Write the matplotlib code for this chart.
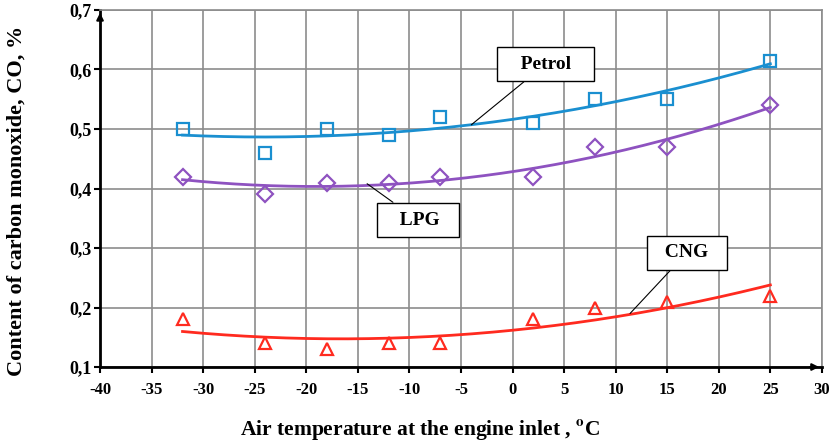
import numpy as np
import matplotlib.pyplot as plt

# ---------- data ----------
temps = [-32, -24, -18, -12, -7, 2, 8, 15, 25]
petrol = [0.50, 0.46, 0.50, 0.49, 0.52, 0.51, 0.55, 0.55, 0.615]
lpg = [0.42, 0.39, 0.41, 0.41, 0.42, 0.42, 0.47, 0.47, 0.54]
cng = [0.18, 0.14, 0.13, 0.14, 0.14, 0.18, 0.20, 0.21, 0.22]

x_ticks = list(range(-40, 31, 5))
y_ticks = [0.1, 0.2, 0.3, 0.4, 0.5, 0.6, 0.7]

plt.rcParams["font.family"] = ["Liberation Serif", "DejaVu Serif"]
plt.rcParams["font.weight"] = "bold"
plt.rcParams["mathtext.fontset"] = "stix"

BLUE = "#1a8fd0"
PURPLE = "#8e52c0"
RED = "#ff2a1f"

fig = plt.figure(figsize=(8.35, 4.44), dpi=100)
ax = fig.add_axes([0.1198, 0.1734, 0.8645, 0.8041])

series = [
    (petrol, "s", 9, BLUE),
    (lpg, "D", 8, PURPLE),
    (cng, "^", 9, RED),
]
xs = np.linspace(min(temps), max(temps), 200)
for vals, marker, ms, color in series:
    ax.plot(temps, vals, linestyle="none", marker=marker, ms=ms, mfc="none",
            mec=color, mew=1.6, zorder=4)
    # 2nd-order trend line, as in the spreadsheet chart
    coef = np.polyfit(temps, vals, 2)
    ax.plot(xs, np.polyval(coef, xs), color=color, lw=2, zorder=3)

ax.set_xlim(-40, 30)
ax.set_ylim(0.1, 0.7)
ax.set_xticks(x_ticks)
ax.set_yticks(y_ticks)
ax.set_xticklabels([str(v) for v in x_ticks], fontsize=12, fontweight="bold")
ax.set_yticklabels([f"{v:.1f}".replace(".", ",") for v in y_ticks],
                   fontsize=13, fontweight="bold")
ax.grid(color="#8c8c8c", lw=1.2)
ax.set_axisbelow(True)
ax.tick_params(axis="x", length=4, width=1.5, direction="out", pad=7)
ax.tick_params(axis="y", length=4, width=1.5, direction="out", pad=2)

for side in ("top", "right"):
    ax.spines[side].set_color("#8c8c8c")
    ax.spines[side].set_linewidth(1.2)
for side in ("left", "bottom"):
    ax.spines[side].set_linewidth(2)
    ax.spines[side].set_color("black")

# arrow heads on the axes
ax.annotate("", xy=(1.0, 0), xycoords="axes fraction", xytext=(0.98, 0),
            arrowprops=dict(arrowstyle="-|>", color="black", lw=1.5))
ax.annotate("", xy=(0, 1.0), xycoords="axes fraction", xytext=(0, 0.97),
            arrowprops=dict(arrowstyle="-|>", color="black", lw=1.5))

fig.text(0.503, 0.032,
         r"Air temperature at the engine inlet , $\mathbf{^{o}}$C",
         fontsize=15.5, fontweight="bold", ha="center", va="center")
fig.text(0.0204, 0.5473, "Content of carbon monoxide, CO, %", fontsize=16,
         fontweight="bold", ha="center", va="center", rotation=90)

# callout labels
box = dict(boxstyle="square,pad=0.45", fc="white", ec="black", lw=1)
labels = [
    ("   Petrol   ", (-4.0, 0.507), (3.2, 0.609)),
    ("   LPG  ", (-14.1, 0.408), (-9.2, 0.347)),
    ("  CNG  ", (11.4, 0.19), (16.9, 0.292)),
]
for text, xy, xytext in labels:
    ax.annotate(text, xy=xy, xytext=xytext, fontsize=14, fontweight="bold",
                ha="center", va="center", bbox=box, zorder=6,
                arrowprops=dict(arrowstyle="-", color="black", lw=0.8,
                                shrinkA=0, shrinkB=0))

fig.savefig("out.png", dpi=100)
